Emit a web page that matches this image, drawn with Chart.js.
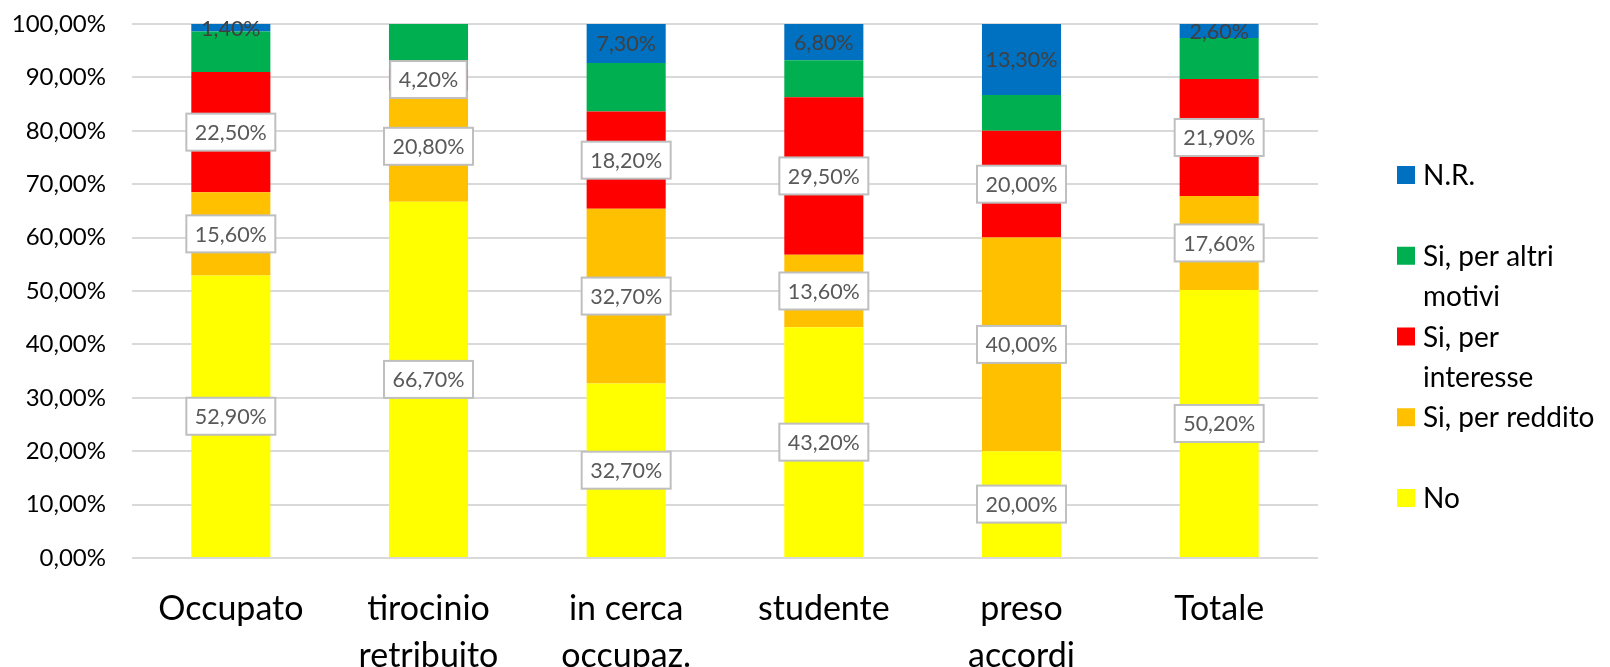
<!DOCTYPE html>
<html>
<head>
<meta charset="utf-8">
<script src="https://cdn.jsdelivr.net/npm/chart.js@4"></script>
<style>
html,body{margin:0;padding:0;background:#fff;overflow:hidden}
canvas{display:block}
</style>
</head>
<body>
<canvas id="c" width="1610" height="667"></canvas>
<script>
// ---- data ----
const categories = [['Occupato'], ['tirocinio', 'retribuito'], ['in cerca', 'occupaz.'], ['studente'], ['preso', 'accordi'], ['Totale']];
const seriesNames = ['No', 'Si, per reddito', 'Si, per interesse', 'Si, per altri motivi', 'N.R.'];
const noValues        = [52.9, 66.7, 32.7, 43.2, 20.0, 50.2];
const redditoValues   = [15.6, 20.8, 32.7, 13.6, 40.0, 17.6];
const interesseValues = [22.5,  4.2, 18.2, 29.5, 20.0, 21.9];
const altriValues     = [ 7.6,  8.3,  9.1,  6.9,  6.7,  7.7];
const nrValues        = [ 1.4,  0.0,  7.3,  6.8, 13.3,  2.6];
const legendLines = [['N.R.'], ['Si, per altri', 'motivi'], ['Si, per', 'interesse'], ['Si, per reddito'], ['No']];

// ---- styles ----
const colors = ['#FFFF00', '#FFC000', '#FF0000', '#00B050', '#0070C0'];
const labelStyle = ['box', 'box', 'box', 'none', 'plain'];
const FONT = 'Lato';

function fmt(v) { return v.toFixed(2).replace('.', ',') + '%'; }

const valueLists = [noValues, redditoValues, interesseValues, altriValues, nrValues];
const datasets = valueLists.map((vals, i) => ({
  label: seriesNames[i],
  data: vals,
  backgroundColor: colors[i],
  borderWidth: 0,
  categoryPercentage: 1,
  barPercentage: 0.4
}));

const labelPlugin = {
  id: 'segLabels',
  afterDatasetsDraw(chart) {
    const ctx = chart.ctx;
    ctx.save();
    ctx.font = '21.5px ' + FONT;
    ctx.textAlign = 'center';
    ctx.textBaseline = 'middle';
    chart.data.datasets.forEach((ds, di) => {
      const style = labelStyle[di];
      if (style === 'none') return;
      const meta = chart.getDatasetMeta(di);
      meta.data.forEach((bar, i) => {
        const v = ds.data[i];
        if (!v) return;
        const cx = bar.x;
        const cy = (bar.y + bar.base) / 2;
        const txt = fmt(v);
        if (style === 'box') {
          const w = ctx.measureText(txt).width + 17;
          const h = 37;
          ctx.fillStyle = '#FFFFFF';
          ctx.fillRect(cx - w / 2, cy - h / 2, w, h);
          ctx.strokeStyle = '#BFBFBF';
          ctx.lineWidth = 2;
          ctx.strokeRect(cx - w / 2, cy - h / 2, w, h);
          ctx.fillStyle = '#595959';
        } else {
          ctx.fillStyle = '#404040';
        }
        ctx.fillText(txt, cx, cy + 1);
      });
    });
    ctx.restore();
  }
};

const legendPlugin = {
  id: 'sideLegend',
  afterDraw(chart) {
    const ctx = chart.ctx;
    ctx.save();
    ctx.font = '28px ' + FONT;
    ctx.textBaseline = 'middle';
    ctx.textAlign = 'left';
    const x0 = 1397, size = 18, textX = 1423, top = 175, step = 80.75, lineH = 40;
    // legend lists series in reverse (top series first)
    for (let k = 0; k < seriesNames.length; k++) {
      const di = seriesNames.length - 1 - k;
      const y = top + k * step;
      ctx.fillStyle = colors[di];
      ctx.fillRect(x0, y - size / 2, size, size);
      ctx.fillStyle = '#000000';
      legendLines[k].forEach((ln, j) => ctx.fillText(ln, textX, y + j * lineH + 1));
    }
    ctx.restore();
  }
};

new Chart(document.getElementById('c'), {
  type: 'bar',
  data: { labels: categories, datasets },
  options: {
    responsive: false,
    animation: false,
    layout: { padding: { left: 0, right: 292, top: 24, bottom: 0 } },
    plugins: { legend: { display: false }, tooltip: { enabled: false } },
    scales: {
      x: {
        stacked: true,
        grid: { display: false },
        border: { display: false },
        ticks: { font: { family: FONT, size: 34, lineHeight: 1.38 }, color: '#000', padding: 20, maxRotation: 0, autoSkip: false },
        afterFit(s) { s.height = 667 - 558; }
      },
      y: {
        stacked: true,
        min: 0, max: 100,
        grid: { color: '#D9D9D9', lineWidth: 2, drawTicks: true, tickLength: 26, tickColor: 'rgba(0,0,0,0)' },
        border: { display: false },
        ticks: { stepSize: 10, font: { family: FONT, size: 24 }, color: '#000', padding: 0, callback: v => fmt(v) },
        afterFit(s) { s.width = 132; }
      }
    }
  },
  plugins: [labelPlugin, legendPlugin]
});
</script>
</body>
</html>
